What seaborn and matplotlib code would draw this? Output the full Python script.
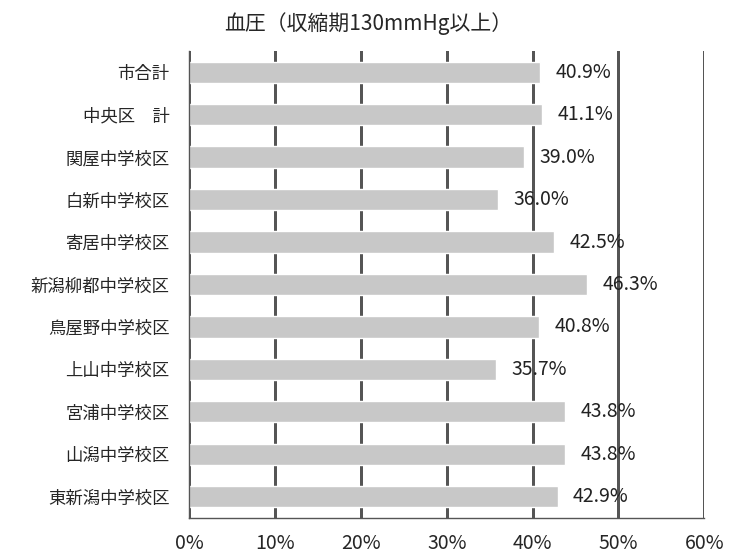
import numpy as np
import pandas as pd
import matplotlib
matplotlib.use("Agg")
import matplotlib.pyplot as plt
import seaborn as sns
from matplotlib.ticker import PercentFormatter, FixedLocator

sns.set_style("white")
plt.rcParams["font.family"] = ["Noto Sans CJK JP", "DejaVu Sans"]

# data
areas = ["市合計", "中央区　計", "関屋中学校区", "白新中学校区", "寄居中学校区",
         "新潟柳都中学校区", "鳥屋野中学校区", "上山中学校区", "宮浦中学校区",
         "山潟中学校区", "東新潟中学校区"]
rates = [40.9, 41.1, 39.0, 36.0, 42.5, 46.3, 40.8, 35.7, 43.8, 43.8, 42.9]
title = "血圧（収縮期130mmHg以上）"

df = pd.DataFrame({"area": areas, "rate": rates})

fig = plt.figure(figsize=(7.36, 5.54), dpi=100)
ax = fig.add_axes([0.257, 0.065, 0.700, 0.843])

# gridlines under bars
ax.set_axisbelow(True)
ax.xaxis.grid(True, color="#555555", linewidth=0.75, snap=True, antialiased=False)

sns.barplot(data=df, y="area", x="rate", color="#c8c8c8", saturation=1,
            width=0.5, orient="h", ax=ax)

for i, v in enumerate(rates):
    ax.text(v + 1.8, i, f"{v:.1f}%", va="center", ha="left",
            fontsize=14, color="#222222")

ax.set_xlim(0, 60)
ax.set_ylim(len(areas) - 0.5, -0.5)
ax.set_xticks(np.arange(0, 61, 10))
ax.xaxis.set_major_formatter(PercentFormatter(decimals=0))
ax.set_xlabel("")
ax.set_ylabel("")

# category boundary ticks on the y axis
ax.yaxis.set_minor_locator(FixedLocator(np.arange(-0.5, len(areas), 1)))
ax.tick_params(axis="y", which="major", length=0, pad=14, labelsize=12.5)
ax.tick_params(axis="y", which="minor", length=5, width=0.75, color="#555555", direction="out")
ax.tick_params(axis="x", which="major", length=5, width=0.75, color="#555555",
               direction="out", labelsize=14, pad=6)

for s in ["top", "right"]:
    ax.spines[s].set_visible(False)
for s in ["left", "bottom"]:
    ax.spines[s].set_color("#555555")
    ax.spines[s].set_linewidth(1.0)

fig.text(0.5, 0.958, title, ha="center", va="center", fontsize=15)

fig.savefig("out.png", dpi=100)
